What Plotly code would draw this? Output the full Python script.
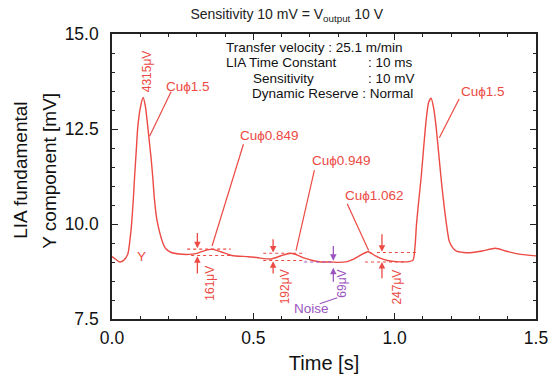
import plotly.graph_objects as go

# ---- data ----
time_s = [0.000, 0.015, 0.028, 0.042, 0.056, 0.063, 0.069, 0.075, 0.080, 0.086, 0.091, 0.100,
          0.110, 0.118, 0.127, 0.133, 0.139, 0.145, 0.150, 0.158, 0.168, 0.180, 0.191, 0.210,
          0.238, 0.270, 0.296, 0.320, 0.353, 0.385, 0.424, 0.483, 0.517, 0.563, 0.600, 0.633,
          0.660, 0.681, 0.710, 0.738, 0.773, 0.800, 0.832, 0.850, 0.867, 0.906, 0.930, 0.948,
          0.975, 1.007, 1.050, 1.065, 1.072, 1.077, 1.085, 1.094, 1.103, 1.112, 1.120, 1.129,
          1.138, 1.147, 1.158, 1.167, 1.176, 1.185, 1.193, 1.205, 1.217, 1.245, 1.275, 1.310,
          1.357, 1.392, 1.430, 1.470, 1.500]
y_mv = [9.14, 9.06, 9.00, 9.05, 9.21, 9.55, 9.97, 10.60, 11.25, 11.95, 12.53, 13.05,
        13.33, 13.10, 12.53, 12.10, 11.68, 11.15, 10.66, 10.15, 9.80, 9.50, 9.34, 9.25,
        9.21, 9.20, 9.22, 9.28, 9.34, 9.27, 9.17, 9.14, 9.11, 9.08, 9.17, 9.23,
        9.17, 9.10, 9.04, 9.00, 9.00, 8.99, 9.01, 9.06, 9.13, 9.27, 9.17, 9.10,
        9.04, 9.01, 9.01, 9.05, 9.40, 9.97, 10.60, 11.25, 12.05, 12.78, 13.20, 13.31,
        13.05, 12.53, 11.68, 11.00, 10.41, 9.90, 9.55, 9.38, 9.29, 9.25, 9.25, 9.29,
        9.36, 9.29, 9.22, 9.18, 9.16]

x_ticks = [0.0, 0.5, 1.0, 1.5]
x_tick_labels = ["0.0", "0.5", "1.0", "1.5"]
y_ticks = [7.5, 10.0, 12.5, 15.0]
y_tick_labels = ["7.5", "10.0", "12.5", "15.0"]

RED = "#ec4a44"
PURPLE = "#9a55c0"
FONT = "Liberation Sans, Arial, sans-serif"

# sample labels: text, x, y, leader start (x,y), leader end (x,y)
cu_labels = ["Cuϕ1.5", "Cuϕ0.849", "Cuϕ0.949", "Cuϕ1.062", "Cuϕ1.5"]
cu_text_x = [0.268, 0.556, 0.811, 0.927, 1.311]
cu_text_y = [13.62, 12.32, 11.68, 10.74, 13.49]
cu_line = [((0.209, 13.48), (0.133, 12.31)),
           ((0.465, 12.10), (0.354, 9.42)),
           ((0.716, 11.42), (0.651, 9.30)),
           ((0.832, 10.53), (0.908, 9.30)),
           ((1.228, 13.29), (1.158, 12.27))]

# amplitude markers: x, top arrow (tail, head), bottom arrow (tail, head), label, label pos
amp_labels = ["161μV", "192μV", "69μV", "247μV"]
amp_x = [0.302, 0.570, 0.783, 0.955]
amp_top = [(9.80, 9.36), (9.64, 9.25), (9.46, 9.03), (9.77, 9.27)]
amp_bot = [(8.66, 9.15), (8.66, 9.02), (8.44, 8.85), (8.53, 9.00)]
amp_label_pos = [(0.348, 8.44), (0.612, 8.36), (0.815, 8.44), (1.010, 8.34)]
amp_color = [RED, RED, PURPLE, RED]

dash_lines = [  # x0, x1, y, color
    (0.266, 0.420, 9.34, RED), (0.280, 0.420, 9.17, RED),
    (0.535, 0.685, 9.23, RED), (0.535, 0.685, 9.04, RED),
    (0.680, 0.780, 9.00, PURPLE),
    (0.937, 1.077, 9.25, RED), (0.895, 1.042, 9.00, RED),
]

fig = go.Figure()
fig.add_trace(go.Scatter(x=time_s, y=y_mv, mode="lines",
                         line=dict(color=RED, width=1.4, shape="spline", smoothing=0.6),
                         hoverinfo="skip", showlegend=False))

shapes = []
annotations = []

for (x0, y0), (x1, y1) in cu_line:
    shapes.append(dict(type="line", xref="x", yref="y", x0=x0, y0=y0, x1=x1, y1=y1,
                       line=dict(color=RED, width=1.2)))
for t, x, y in zip(cu_labels, cu_text_x, cu_text_y):
    annotations.append(dict(x=x, y=y, xref="x", yref="y", text=t, showarrow=False,
                            font=dict(family=FONT, size=13.5, color=RED)))

for x0, x1, y, c in dash_lines:
    shapes.append(dict(type="line", xref="x", yref="y", x0=x0, y0=y, x1=x1, y1=y,
                       line=dict(color=c, width=1.1, dash="dot")))

for lab, x, top, bot, lp, c in zip(amp_labels, amp_x, amp_top, amp_bot, amp_label_pos, amp_color):
    for tail, head in (top, bot):
        annotations.append(dict(x=x, y=head, ax=x, ay=tail, xref="x", yref="y",
                                axref="x", ayref="y", text="", showarrow=True,
                                arrowhead=2, arrowsize=1.0, arrowwidth=1.3,
                                arrowcolor=c, standoff=0, startstandoff=0))
    annotations.append(dict(x=lp[0], y=lp[1], xref="x", yref="y", text=lab, textangle=-90,
                            showarrow=False, font=dict(family=FONT, size=12, color=c)))

# peak value label
annotations.append(dict(x=0.124, y=14.02, xref="x", yref="y", text="4315μV", textangle=-90,
                        showarrow=False, font=dict(family=FONT, size=12, color=RED)))
# Y label
annotations.append(dict(x=0.104, y=9.14, xref="x", yref="y", text="Y", showarrow=False,
                        font=dict(family=FONT, size=13.5, color=RED)))
# Noise label + leader
annotations.append(dict(x=0.706, y=7.78, xref="x", yref="y", text="Noise", showarrow=False,
                        font=dict(family=FONT, size=13.5, color=PURPLE)))
shapes.append(dict(type="line", xref="x", yref="y", x0=0.735, y0=7.90, x1=0.797, y1=8.06,
                   line=dict(color=PURPLE, width=1.2)))

# condition text block
info = [("Transfer velocity : 25.1 m/min", 0.395, 14.64),
        ("LIA Time Constant", 0.395, 14.24), (": 10 ms", 0.900, 14.24),
        ("Sensitivity", 0.493, 13.84), (": 10 mV", 0.900, 13.84),
        ("Dynamic Reserve : Normal", 0.489, 13.44)]
for t, x, y in info:
    annotations.append(dict(x=x, y=y, xref="x", yref="y", text=t, showarrow=False,
                            xanchor="left", font=dict(family=FONT, size=13.5, color="#111")))

# y axis title (two rotated lines)
annotations.append(dict(x=0, y=0.52, xref="paper", yref="paper", text="LIA fundamental",
                        textangle=-90, showarrow=False, xanchor="center", xshift=-91,
                        font=dict(family=FONT, size=19, color="#111")))
annotations.append(dict(x=0, y=0.52, xref="paper", yref="paper", text="Y component [mV]",
                        textangle=-90, showarrow=False, xanchor="center", xshift=-62,
                        font=dict(family=FONT, size=19, color="#111")))

fig.update_layout(
    width=560, height=383,
    margin=dict(l=112, r=19, t=34, b=57),
    paper_bgcolor="white", plot_bgcolor="white",
    title=dict(text="Sensitivity 10 mV = V<sub>output</sub> 10 V", x=0.512, y=0.963,
               xanchor="center", yanchor="middle",
               font=dict(family=FONT, size=14, color="#222")),
    shapes=shapes,
    annotations=annotations,
    showlegend=False,
)

fig.update_xaxes(range=[0, 1.5], tickvals=x_ticks, ticktext=x_tick_labels,
                 ticks="inside", ticklen=6, tickwidth=1.3, tickcolor="#222",
                 minor=dict(dtick=0.1, ticks="inside", ticklen=3, tickcolor="#222", tickwidth=1),
                 showline=True, linecolor="#222", linewidth=1.6, mirror="ticks",
                 showgrid=False, zeroline=False, ticklabelstandoff=2,
                 tickfont=dict(family=FONT, size=17.5, color="#111"),
                 title=dict(text="Time [s]", font=dict(family=FONT, size=20, color="#111"), standoff=9))
fig.update_yaxes(range=[7.5, 15.0], tickvals=y_ticks, ticktext=y_tick_labels,
                 ticks="inside", ticklen=6, tickwidth=1.3, tickcolor="#222",
                 minor=dict(dtick=0.5, ticks="inside", ticklen=3, tickcolor="#222", tickwidth=1),
                 showline=True, linecolor="#222", linewidth=1.6, mirror="ticks",
                 showgrid=False, zeroline=False, ticklabelstandoff=8,
                 tickfont=dict(family=FONT, size=17.5, color="#111"))

fig.write_html("out.html", config={"displayModeBar": False},
               post_script="document.body.style.margin='0';")
